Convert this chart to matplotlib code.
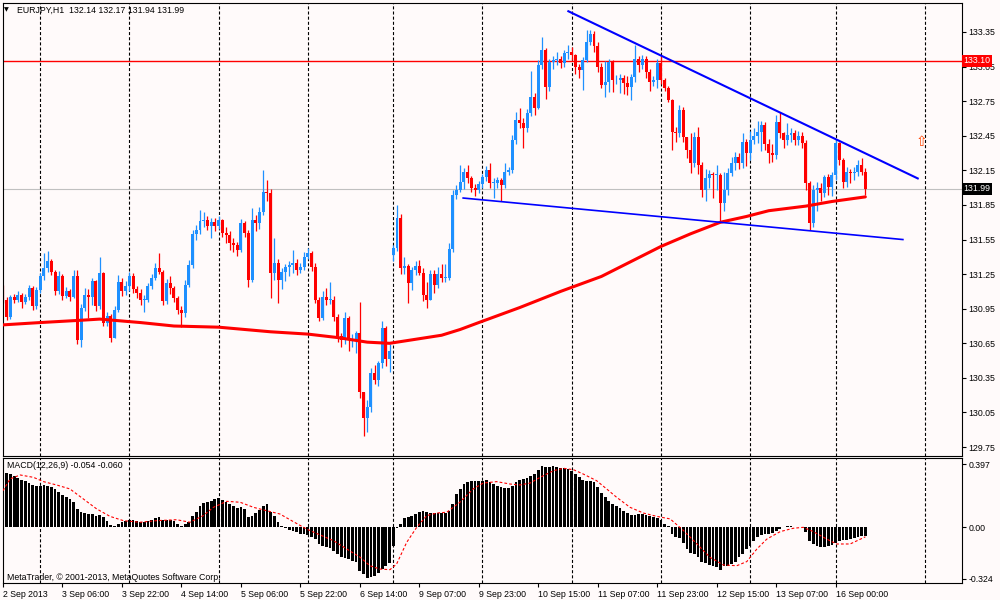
import matplotlib.pyplot as plt
from matplotlib.patches import Rectangle
from matplotlib.transforms import blended_transform_factory

plt.rcParams['font.family'] = ['Liberation Sans', 'DejaVu Sans']
plt.rcParams['lines.scale_dashes'] = False

title_text = 'EURJPY,H1  132.14 132.17 131.94 131.99'
macd_text = 'MACD(12,26,9) -0.054 -0.060'
copy_text = 'MetaTrader, \u00a9 2001-2013, MetaQuotes Software Corp.'

# H1 candles, open of a bar = close of the bar before (except the gaps below)
first_open = 131.13
open_gaps = {105: 131.42}

closes = [
    131.03, 130.88, 131.05, 131.03, 131.07, 131.01, 131.05, 131.13, 130.97, 131.11,
    131.23, 131.30, 131.36, 131.27, 131.10, 131.23, 131.06, 131.10, 131.05, 131.23,
    130.68, 130.96, 131.07, 131.05, 131.19, 130.97, 131.26, 130.83, 130.89, 130.70,
    130.94, 131.18, 131.10, 131.15, 131.23, 131.12, 131.09, 131.03, 131.03, 131.15,
    131.22, 131.30, 131.27, 131.02, 131.17, 131.13, 131.04, 130.94, 130.91, 131.16,
    131.33, 131.60, 131.63, 131.71, 131.72, 131.67, 131.70, 131.67, 131.72, 131.61,
    131.59, 131.52, 131.50, 131.46, 131.69, 131.61, 131.20, 131.72, 131.69, 131.79,
    131.96, 131.95, 131.26, 131.35, 131.20, 131.27, 131.31, 131.33, 131.35, 131.29,
    131.31, 131.40, 131.43, 131.31, 131.03, 130.87, 131.05, 131.03, 131.03, 130.88,
    130.71, 130.68, 130.87, 130.68, 130.68, 130.74, 130.23, 130.00, 130.10, 130.39,
    130.33, 130.48, 130.78, 130.51, 130.58, 131.48, 131.74, 131.30, 131.32, 131.17,
    131.29, 131.32, 131.26, 131.07, 131.03, 131.25, 131.16, 131.25, 131.22, 131.22,
    131.47, 131.94, 131.98, 132.05, 132.14, 132.08, 132.00, 131.98, 132.03, 132.09,
    132.15, 132.04, 132.04, 132.07, 132.02, 132.14, 132.15, 132.41, 132.59, 132.56,
    132.52, 132.65, 132.79, 132.69, 133.06, 133.19, 132.87, 133.09, 133.11, 133.12,
    133.08, 133.17, 133.18, 133.15, 133.05, 133.02, 133.11, 133.26, 133.33, 133.23,
    133.05, 132.89, 132.92, 133.09, 132.93, 132.93, 132.95, 132.91, 132.87, 132.96,
    133.12, 133.06, 133.12, 133.00, 132.92, 132.93, 133.08, 132.93, 132.86, 132.76,
    132.48, 132.47, 132.67, 132.44, 132.33, 132.21, 132.44, 132.20, 131.98, 132.08,
    132.12, 132.11, 132.11, 131.87, 131.98, 132.13, 132.21, 132.27, 132.21, 132.40,
    132.30, 132.41, 132.45, 132.48, 132.54, 132.38, 132.30, 132.28, 132.57, 132.47,
    132.41, 132.46, 132.47, 132.41, 132.45, 132.39, 132.04, 131.69, 131.98, 132.00,
    131.95, 132.09, 132.01, 132.11, 132.39, 132.24, 132.05, 132.14, 132.13, 132.14,
    132.20, 132.14, 131.99,
]

highs = [
    131.16, 131.05, 131.07, 131.08, 131.10, 131.09, 131.08, 131.16, 131.15, 131.14,
    131.26, 131.43, 131.45, 131.38, 131.29, 131.28, 131.25, 131.14, 131.12, 131.29,
    131.29, 130.99, 131.13, 131.12, 131.22, 131.20, 131.40, 131.27, 130.92, 130.90,
    130.97, 131.24, 131.22, 131.19, 131.27, 131.26, 131.15, 131.12, 131.07, 131.17,
    131.25, 131.35, 131.43, 131.29, 131.21, 131.23, 131.15, 131.06, 130.97, 131.20,
    131.37, 131.63, 131.68, 131.81, 131.79, 131.75, 131.74, 131.74, 131.75, 131.73,
    131.66, 131.62, 131.56, 131.53, 131.73, 131.71, 131.63, 131.82, 131.76, 131.83,
    132.15, 132.07, 131.99, 131.56, 131.38, 131.30, 131.34, 131.36, 131.46, 131.38,
    131.35, 131.44, 131.48, 131.45, 131.35, 131.05, 131.10, 131.13, 131.18, 131.06,
    130.90, 130.74, 130.92, 130.89, 130.73, 130.76, 131.01, 130.23, 130.16, 130.44,
    130.46, 130.50, 130.84, 130.80, 130.64, 131.50, 131.85, 131.77, 131.40, 131.34,
    131.31, 131.36, 131.37, 131.30, 131.18, 131.29, 131.29, 131.31, 131.34, 131.34,
    131.52, 131.98, 132.02, 132.20, 132.17, 132.20, 132.10, 132.03, 132.06, 132.12,
    132.19, 132.21, 132.08, 132.09, 132.08, 132.21, 132.18, 132.46, 132.66, 132.69,
    132.60, 132.68, 133.01, 132.82, 133.11, 133.31, 133.21, 133.12, 133.14, 133.18,
    133.14, 133.19, 133.24, 133.22, 133.16, 133.07, 133.13, 133.37, 133.37, 133.36,
    133.26, 133.08, 133.10, 133.12, 133.11, 132.98, 132.99, 132.98, 132.97, 132.99,
    133.24, 133.14, 133.15, 133.14, 133.03, 132.97, 133.12, 133.14, 132.95, 132.88,
    132.77, 132.53, 132.72, 132.70, 132.41, 132.47, 132.48, 132.53, 132.22, 132.16,
    132.15, 132.14, 132.20, 132.13, 132.14, 132.17, 132.27, 132.31, 132.30, 132.47,
    132.42, 132.49, 132.52, 132.58, 132.58, 132.57, 132.42, 132.38, 132.63, 132.66,
    132.48, 132.56, 132.52, 132.50, 132.49, 132.48, 132.41, 132.06, 132.02, 132.05,
    132.04, 132.11, 132.12, 132.14, 132.42, 132.40, 132.26, 132.18, 132.16, 132.18,
    132.24, 132.26, 132.17,
]

lows = [
    131.00, 130.85, 130.86, 131.00, 131.01, 130.96, 130.99, 131.03, 130.94, 130.95,
    131.09, 131.20, 131.27, 131.24, 131.07, 131.08, 131.03, 131.04, 131.02, 131.04,
    130.64, 130.62, 130.93, 130.87, 130.98, 130.93, 130.95, 130.80, 130.80, 130.66,
    130.72, 130.92, 131.06, 131.07, 131.10, 131.09, 131.04, 130.98, 130.92, 131.01,
    131.12, 131.20, 131.25, 130.98, 130.99, 131.08, 131.01, 130.90, 130.79, 130.88,
    131.14, 131.30, 131.55, 131.60, 131.66, 131.63, 131.56, 131.62, 131.64, 131.57,
    131.52, 131.46, 131.44, 131.41, 131.44, 131.57, 131.14, 131.18, 131.62, 131.64,
    131.76, 131.88, 131.04, 131.20, 131.00, 131.12, 131.19, 131.23, 131.26, 131.24,
    131.26, 131.29, 131.38, 131.28, 131.00, 130.84, 130.85, 130.98, 130.99, 130.84,
    130.66, 130.62, 130.64, 130.58, 130.62, 130.57, 130.18, 129.85, 129.88, 130.05,
    130.30, 130.28, 130.44, 130.45, 130.40, 131.36, 131.45, 131.25, 131.25, 131.00,
    131.11, 131.24, 131.24, 131.02, 130.96, 131.05, 131.09, 131.13, 131.18, 131.18,
    131.20, 131.44, 131.90, 131.96, 131.99, 132.04, 131.96, 131.93, 131.95, 132.00,
    132.06, 132.00, 131.91, 132.00, 131.88, 132.00, 132.11, 132.13, 132.38, 132.52,
    132.34, 132.48, 132.62, 132.63, 132.68, 133.03, 132.77, 132.84, 133.03, 133.06,
    133.04, 133.05, 133.12, 133.11, 132.99, 132.95, 132.85, 133.09, 133.24, 133.18,
    133.00, 132.86, 132.79, 132.83, 132.83, 132.90, 132.82, 132.81, 132.80, 132.76,
    132.92, 133.00, 133.03, 132.95, 132.84, 132.88, 132.86, 132.90, 132.84, 132.74,
    132.33, 132.40, 132.44, 132.40, 132.26, 132.13, 132.18, 132.12, 131.92, 131.88,
    132.00, 131.91, 131.98, 131.70, 131.80, 131.94, 132.10, 132.15, 132.16, 132.17,
    132.19, 132.24, 132.38, 132.39, 132.32, 132.33, 132.21, 132.22, 132.25, 132.43,
    132.34, 132.37, 132.40, 132.37, 132.37, 132.34, 131.98, 131.63, 131.66, 131.80,
    131.88, 131.92, 131.94, 131.93, 132.07, 132.20, 132.00, 132.01, 132.04, 132.07,
    132.10, 132.11, 131.94,
]

# moving average (red line), read at a few bars
ma_bars = [0, 10, 21, 26, 37, 46, 58, 72, 82, 90, 98, 104, 110, 118, 123, 128,
           139, 150, 161, 169, 177, 185, 193, 200, 206, 216, 223, 232]
ma_vals = [130.81, 130.83, 130.85, 130.86, 130.83, 130.80, 130.79, 130.75, 130.73,
           130.70, 130.66, 130.65, 130.68, 130.72, 130.77, 130.83, 130.96, 131.10,
           131.23, 131.36, 131.49, 131.60, 131.70, 131.75, 131.80, 131.84, 131.88, 131.92]

macd_hist = [
    0.357, 0.342, 0.336, 0.321, 0.309, 0.300, 0.294, 0.279, 0.267, 0.263,
    0.263, 0.267, 0.263, 0.252, 0.242, 0.225, 0.204, 0.189, 0.179, 0.162,
    0.116, 0.095, 0.088, 0.084, 0.084, 0.074, 0.078, 0.063, 0.038, 0.015,
    0.011, 0.021, 0.032, 0.038, 0.048, 0.048, 0.042, 0.032, 0.032, 0.038,
    0.048, 0.061, 0.065, 0.048, 0.046, 0.048, 0.042, 0.021, 0.011, 0.021,
    0.032, 0.074, 0.099, 0.137, 0.153, 0.162, 0.168, 0.179, 0.183, 0.174,
    0.158, 0.147, 0.137, 0.122, 0.126, 0.116, 0.067, 0.074, 0.090, 0.111,
    0.137, 0.147, 0.095, 0.074, 0.032, 0.006, -0.006, -0.015, -0.021, -0.032,
    -0.042, -0.042, -0.048, -0.059, -0.074, -0.105, -0.116, -0.126, -0.130, -0.147,
    -0.168, -0.189, -0.195, -0.200, -0.210, -0.216, -0.273, -0.294, -0.321, -0.315,
    -0.305, -0.288, -0.263, -0.242, -0.225, -0.116, -0.006, 0.021, 0.057, 0.067,
    0.074, 0.084, 0.099, 0.105, 0.099, 0.090, 0.090, 0.090, 0.090, 0.090,
    0.105, 0.147, 0.210, 0.242, 0.273, 0.288, 0.294, 0.294, 0.294, 0.294,
    0.300, 0.284, 0.273, 0.263, 0.252, 0.246, 0.246, 0.263, 0.284, 0.300,
    0.305, 0.309, 0.326, 0.336, 0.363, 0.384, 0.382, 0.382, 0.384, 0.380,
    0.372, 0.374, 0.368, 0.357, 0.336, 0.315, 0.300, 0.294, 0.294, 0.288,
    0.252, 0.216, 0.189, 0.168, 0.147, 0.132, 0.120, 0.105, 0.090, 0.078,
    0.078, 0.084, 0.084, 0.078, 0.069, 0.063, 0.057, 0.048, 0.021, 0.006,
    -0.042, -0.063, -0.069, -0.099, -0.137, -0.162, -0.168, -0.189, -0.216, -0.225,
    -0.237, -0.246, -0.252, -0.267, -0.246, -0.242, -0.231, -0.216, -0.189, -0.168,
    -0.137, -0.116, -0.084, -0.063, -0.048, -0.042, -0.042, -0.036, -0.021, -0.011,
    0.004, 0.006, 0.006, 0.004, 0.002, 0.001, -0.032, -0.084, -0.105, -0.116,
    -0.126, -0.126, -0.120, -0.111, -0.099, -0.084, -0.078, -0.078, -0.074, -0.069,
    -0.063, -0.057, -0.054,
]

signal_bars = [0, 1.9, 4.6, 8.2, 10.9, 14.4, 18.0, 21.6, 25.2, 28.8, 32.4, 36.9, 41.3,
               46.7, 50.3, 53.9, 56.6, 60.2, 63.8, 67.4, 70.9, 74.5, 78.1, 81.7, 85.3,
               88.9, 92.5, 96.1, 98.7, 101.4, 104.1, 105.9, 108.6, 111.3, 114.0, 116.7,
               119.4, 122.9, 126.5, 129.2, 132.8, 136.4, 139.1, 141.8, 144.5, 148.1,
               150.8, 153.5, 156.1, 159.7, 162.4, 165.1, 168.7, 172.3, 175.9, 179.5,
               183.1, 186.7, 190.2, 193.8, 197.4, 200.1, 202.8, 205.5, 209.1, 212.6,
               215.3, 218.0, 221.6, 224.3, 227.9, 232]
signal_vals = [0.231, 0.305, 0.330, 0.315, 0.288, 0.267, 0.242, 0.179, 0.116, 0.069,
               0.042, 0.032, 0.042, 0.048, 0.032, 0.074, 0.126, 0.164, 0.158, 0.126,
               0.105, 0.084, 0.036, -0.011, -0.048, -0.084, -0.137, -0.189, -0.242,
               -0.263, -0.267, -0.231, -0.095, 0.0, 0.074, 0.090, 0.095, 0.158, 0.242,
               0.279, 0.288, 0.273, 0.267, 0.279, 0.315, 0.357, 0.372, 0.363, 0.336,
               0.294, 0.242, 0.189, 0.126, 0.090, 0.069, 0.053, -0.021, -0.105, -0.189,
               -0.237, -0.242, -0.216, -0.137, -0.074, -0.027, -0.006, 0.0, -0.027,
               -0.074, -0.105, -0.105, -0.060]

day_bars = [10, 34, 58, 82, 105, 129, 153, 177, 201, 224, 248]
time_bars = [0, 16, 32, 48, 64, 80, 96, 112, 128, 144, 160, 176, 192, 208, 224]
time_labels = ['2 Sep 2013', '3 Sep 06:00', '3 Sep 22:00', '4 Sep 14:00', '5 Sep 06:00',
               '5 Sep 22:00', '6 Sep 14:00', '9 Sep 07:00', '9 Sep 23:00', '10 Sep 15:00',
               '11 Sep 07:00', '11 Sep 23:00', '12 Sep 15:00', '13 Sep 07:00', '16 Sep 00:00']
price_ticks = [133.35, 133.05, 132.75, 132.45, 132.15, 131.85, 131.55, 131.25,
               130.95, 130.65, 130.35, 130.05, 129.75]
macd_ticks = [0.397, 0.0, -0.324]
macd_tick_labels = ['0.397', '0.00', '-0.324']

level_price = 133.10
bid_price = 131.99
upper_trend = ([152.1, 246.1], [133.53, 132.08])
lower_trend = ([123.8, 242.1], [131.91, 131.55])
arrow_bar, arrow_price = 247, 132.40

bg = '#fffafa'
bull = '#1e90ff'
bear = '#ff0000'

fig = plt.figure(figsize=(10, 6), dpi=100, facecolor=bg)
ax = fig.add_axes([0.0025, 0.24, 0.96, 0.755], facecolor=bg)
ax2 = fig.add_axes([0.0025, 0.0278, 0.96, 0.2083], facecolor=bg)

xlim = (-0.135, 258.14)

# candles
prev = first_open
for i in range(len(closes)):
    o = open_gaps.get(i, prev)
    c = closes[i]
    col = bull if c >= o else bear
    hi = max(highs[i], o, c)
    lo = min(lows[i], o, c)
    ax.vlines(i, lo, hi, color=col, lw=0.9, zorder=2)
    h = max(abs(c - o), 0.008)
    ax.add_patch(Rectangle((i - 0.4, min(o, c)), 0.8, h, facecolor=col,
                           edgecolor='none', zorder=2))
    prev = c

ax.plot(ma_bars, ma_vals, color='#ff0000', lw=2.2, solid_capstyle='round', zorder=3)
ax.axhline(level_price, color='#ff0000', lw=1.0, zorder=1)
ax.axhline(bid_price, color='#c0c0c0', lw=0.8, zorder=1)
ax.plot(upper_trend[0], upper_trend[1], color='#0000ff', lw=1.5, zorder=4)
ax.plot(lower_trend[0], lower_trend[1], color='#0000ff', lw=1.2, zorder=4)
ax.text(arrow_bar, arrow_price, '\u21e7', color='#ff4500', fontsize=10,
        ha='center', va='center', family='DejaVu Sans')

for a in (ax, ax2):
    for b in day_bars:
        a.axvline(b, color='black', lw=0.8, ls=(0, (2.2, 1.5)), zorder=1)
    a.set_xlim(xlim)
    for s in a.spines.values():
        s.set_linewidth(0.8)
        s.set_color('black')
    a.yaxis.tick_right()
    a.tick_params(axis='y', direction='out', length=3, width=0.8, labelsize=6.3, pad=1.5)

ax.set_ylim(129.6727, 133.6015)
ax.set_yticks(price_ticks)
ax.set_yticklabels(['%.2f' % p for p in price_ticks])
ax.set_xticks([])

# MACD
ax2.bar(range(len(macd_hist)), macd_hist, width=0.74, color='black', zorder=2)
ax2.plot(signal_bars, signal_vals, color='#ff0000', lw=0.8, ls=(0, (2, 1.5)), zorder=3)
ax2.set_ylim(-0.3529, 0.4348)
ax2.set_yticks(macd_ticks)
ax2.set_yticklabels(macd_tick_labels)
ax2.set_xticks(time_bars)
ax2.set_xticklabels(time_labels, ha='left')
ax2.tick_params(axis='x', direction='out', length=3, width=0.8, labelsize=6.3, pad=1.5)

# price tags on the right axis
tr = blended_transform_factory(ax.transAxes, ax.transData)
ax.text(1.001, level_price, '%.2f' % level_price, transform=tr, color='white', fontsize=6.3,
        ha='left', va='center', bbox=dict(facecolor='#ff0000', edgecolor='none', pad=1.0))
ax.text(1.001, bid_price, '%.2f' % bid_price, transform=tr, color='white', fontsize=6.3,
        ha='left', va='center', bbox=dict(facecolor='black', edgecolor='none', pad=1.0))

fig.text(0.004, 1 - 10 / 600, '\u25bc', fontsize=4.5, va='center', family='DejaVu Sans')
fig.text(0.017, 1 - 10 / 600, title_text, fontsize=6.3, va='center')
fig.text(0.007, 1 - 466 / 600, macd_text, fontsize=6.3, va='center')
fig.text(0.007, 1 - 577 / 600, copy_text, fontsize=6.3, va='center')

plt.savefig('out.png', dpi=100, facecolor=bg)
